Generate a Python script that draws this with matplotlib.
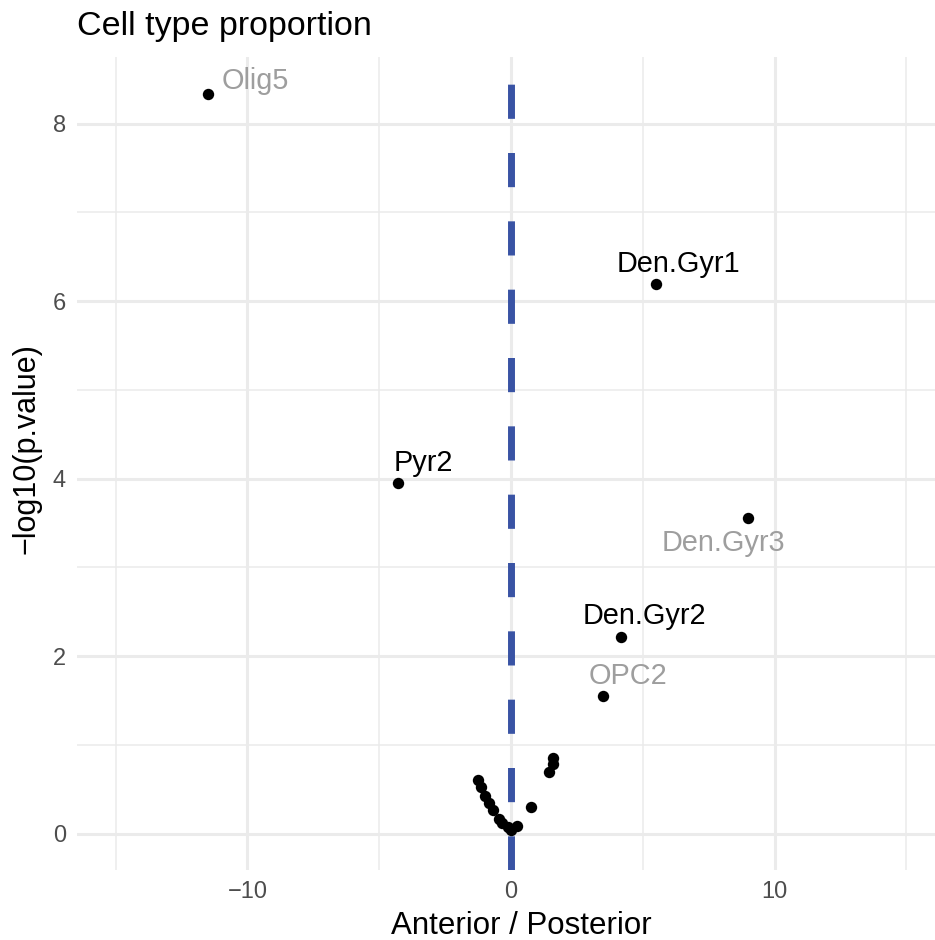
import numpy as np
import matplotlib
matplotlib.use("Agg")
import matplotlib.pyplot as plt

plt.rcParams['font.family'] = ['Liberation Sans', 'DejaVu Sans']

# log fold change (anterior vs posterior) and -log10 p-value per cell type
names = ["Olig5", "Den.Gyr1", "Pyr2", "Den.Gyr3", "Den.Gyr2", "OPC2"]
lfc = [-11.50, 5.50, -4.29, 9.00, 4.18, 3.49]
logp = [8.33, 6.19, 3.95, 3.56, 2.22, 1.55]
highlight = [False, True, True, False, True, False]

# remaining cell types, not labelled
rest_lfc = [-1.25, -1.14, -0.98, -0.83, -0.68, -0.45, -0.34, -0.11, 0.0, 0.23,
            0.76, 1.44, 1.59, 1.59]
rest_logp = [0.60, 0.52, 0.42, 0.35, 0.27, 0.16, 0.12, 0.07, 0.04, 0.09,
             0.30, 0.69, 0.78, 0.85]

# label offsets in points (repelled text positions)
offsets = [(34, 4), (16, 9), (18, 9), (-18, -24), (17, 9), (18, 9)]

fig = plt.figure(figsize=(9.35, 9.40), dpi=100)
ax = fig.add_axes([77 / 935, 70 / 940, 858 / 935, 813 / 940])

grid_col = "#EBEBEB"
for x in [-15, -5, 5, 15]:
    ax.axvline(x, color=grid_col, lw=1.1, zorder=0)
for y in [1, 3, 5, 7]:
    ax.axhline(y, color=grid_col, lw=1.1, zorder=0)
for x in [-10, 0, 10]:
    ax.axvline(x, color=grid_col, lw=2.2, zorder=0)
for y in [0, 2, 4, 6, 8]:
    ax.axhline(y, color=grid_col, lw=2.2, zorder=0)

vl = ax.axvline(0, color="#3953A4", lw=5.0, zorder=1)
vl.set_dashes((4.92, 4.92))
vl.set_dash_capstyle("butt")

ax.plot(rest_lfc, rest_logp, "o", color="black", ms=8.2, mew=0, zorder=3)
ax.plot(lfc, logp, "o", color="black", ms=8.2, mew=0, zorder=3)

for n, x, y, h, off in zip(names, lfc, logp, highlight, offsets):
    ax.annotate(n, (x, y), xytext=off, textcoords="offset points",
                ha="center", va="baseline", fontsize=20.8,
                color="black" if h else "#9E9E9E", zorder=4)

ax.set_xlim(-16.47, 16.09)
ax.set_ylim(-0.41, 8.75)
ax.set_xticks([-10, 0, 10])
ax.set_xticklabels(["\u221210", "0", "10"])
ax.set_yticks([0, 2, 4, 6, 8])
ax.tick_params(length=0, labelsize=17, labelcolor="#4D4D4D", pad=8)
for s in ax.spines.values():
    s.set_visible(False)

ax.set_xlabel("Anterior / Posterior", fontsize=22.5)
ax.xaxis.set_label_coords((521 - 77) / 858, -0.05)
ax.set_ylabel("\u2212log10(p.value)", fontsize=22)
ax.yaxis.set_label_coords(-0.041, 0.518)
ax.set_title("Cell type proportion", fontsize=24.5, loc="left", pad=16)

fig.savefig("out.png", dpi=100)
